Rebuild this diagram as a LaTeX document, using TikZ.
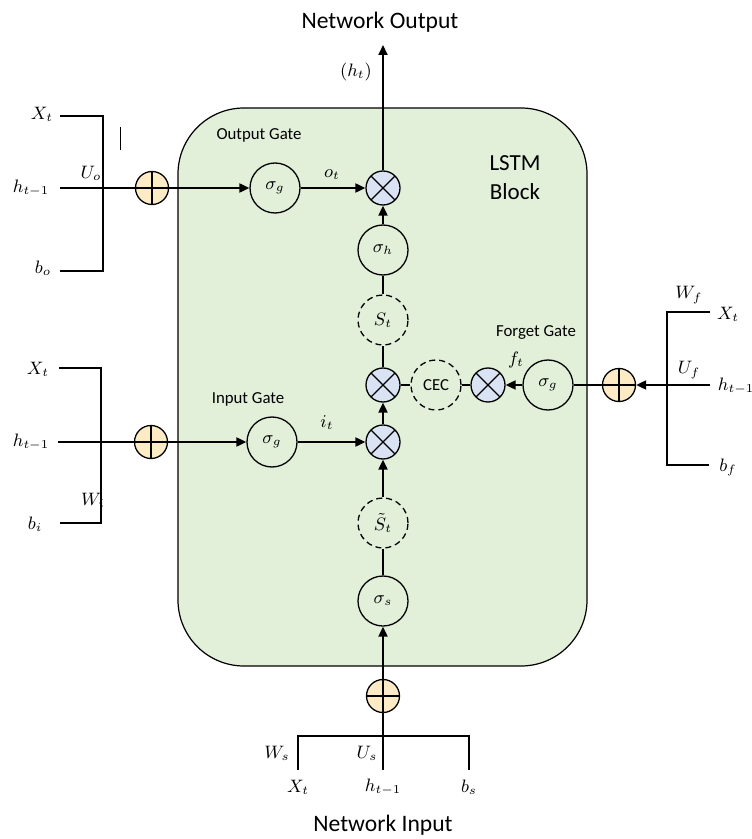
\documentclass[tikz,border=0pt]{standalone}
\usepackage{fontspec}
\setmainfont{Carlito}
\usepackage{tikz}
\usetikzlibrary{arrows.meta}
\definecolor{blockgreen}{HTML}{E2EFD9}
\definecolor{sumfill}{HTML}{FDEBC6}
\definecolor{mulfill}{HTML}{DAE3F3}

\begin{document}
\begin{tikzpicture}[x=0.5pt, y=-0.5pt,
    sig/.style={circle, draw, line width=0.65pt, minimum size=25pt, inner sep=0pt, font=\fontsize{9}{10}\selectfont},
    state/.style={sig, dash pattern=on 3pt off 2pt},
    mul/.style={circle, draw, line width=0.65pt, fill=mulfill, minimum size=17pt, inner sep=0pt,
        path picture={\draw[line width=0.65pt] (path picture bounding box.north west) -- (path picture bounding box.south east)
            (path picture bounding box.north east) -- (path picture bounding box.south west);}},
    sum/.style={circle, draw, line width=0.65pt, fill=sumfill, minimum size=16.5pt, inner sep=0pt,
        path picture={\draw[line width=0.65pt] (path picture bounding box.north) -- (path picture bounding box.south)
            (path picture bounding box.west) -- (path picture bounding box.east);}},
    lbl/.style={inner sep=0pt, font=\fontsize{9.2}{10}\selectfont},
    gate/.style={inner sep=0pt, font=\fontsize{8.4}{10}\selectfont},
    title/.style={inner sep=0pt, font=\fontsize{11.8}{14.5}\selectfont, align=center},
    wire/.style={line width=1pt},
    arr/.style={line width=1pt, -{Triangle[length=5pt, width=4.5pt]}},
    bar/.style={line width=1.4pt}
]
\useasboundingbox (0,0) rectangle (751,839);
\node[draw, fill=blockgreen, line width=0.6pt, rounded corners=33pt, minimum width=204.5pt, minimum height=279pt] (block) at (382.5,387) {};

\node[mul] (omul) at (383,188) {};
\node[sig] (osig) at (275,188) {$\sigma_g$};
\node[sum] (osum) at (152,188) {};
\node[sig] (hsig) at (383,250) {$\sigma_h$};
\node[state] (st) at (383,320) {$S_t$};
\node[mul] (cmul) at (383,385) {};
\node[state, font=\fontsize{8.4}{10}\selectfont] (cec) at (436,385) {CEC};
\node[mul] (fmul) at (488,385) {};
\node[sig] (fsig) at (548,385) {$\sigma_g$};
\node[sum] (fsum) at (619,385) {};
\node[mul] (imul) at (383,442) {};
\node[sig] (isig) at (272,442) {$\sigma_g$};
\node[sum] (isum) at (151,442) {};
\node[state] (sst) at (383,523) {$\tilde{S}_t$};
\node[sig] (ssig) at (383,601) {$\sigma_s$};
\node[sum] (ssum) at (383,696) {};

\node[title] (netout) at (380,22) {Network Output};
\node[title] (netin) at (383,825) {Network Input};
\node[title, font=\fontsize{11.5}{14.5}\selectfont] (lstm) at (515,178) {LSTM\\Block};
\node[gate] (ogate) at (259,135) {Output Gate};
\node[gate] (igate) at (248,399) {Input Gate};
\node[gate] (fgate) at (536,332) {Forget Gate};
\node[lbl] (ht) at (356,72) {$(h_t)$};
\node[lbl] (ot) at (332,175) {$o_t$};
\node[lbl] (it) at (327,423) {$i_t$};
\node[lbl] (ft) at (516,360) {$f_t$};

\node[lbl] (oxt) at (42,114) {$X_t$};
\node[lbl] (oht) at (31,188) {$h_{t-1}$};
\node[lbl] (obo) at (43,268) {$b_o$};
\node[lbl] (ouo) at (91,173) {$U_o$};
\node[lbl] (ixt) at (38,369) {$X_t$};
\node[lbl] (iht) at (31,442) {$h_{t-1}$};
\node[lbl] (ibi) at (35,524) {$b_i$};
\node[lbl] (iwi) at (93,500) {$W_i$};
\node[lbl] (fwf) at (689,295) {$W_f$};
\node[lbl] (fxt) at (728,314) {$X_t$};
\node[lbl] (fuf) at (689,370) {$U_f$};
\node[lbl] (fht) at (736,386) {$h_{t-1}$};
\node[lbl] (fbf) at (728,467) {$b_f$};
\node[lbl] (sws) at (277,753) {$W_s$};
\node[lbl] (sus) at (367,753) {$U_s$};
\node[lbl] (sxt) at (298,787) {$X_t$};
\node[lbl] (sht) at (383,787) {$h_{t-1}$};
\node[lbl] (sbs) at (469,787) {$b_s$};

\coordinate (out) at (383,45);
\coordinate (oX) at (60,116);
\coordinate (oH) at (60,188);
\coordinate (oB) at (60,271);
\coordinate (caret) at (120,127);
\coordinate (iX) at (59,368);
\coordinate (iH) at (58,442);
\coordinate (iB) at (60,523);
\coordinate (fX) at (710,312);
\coordinate (fH) at (710,385);
\coordinate (fB) at (709,465);
\coordinate (sX) at (298,770);
\coordinate (sH) at (383,770);
\coordinate (sB) at (469,770);

\draw[bar] (oX) -- ++(43,0) |- (oB);
\draw[bar] (oH) -- (osum);
\draw[line width=0.5pt] (caret) -- ++(0,23);
\draw[bar] (iX) -- ++(42,0) |- (iB);
\draw[bar] (iH) -- (isum);
\draw[bar] (fX) -- ++(-43,0) |- (fB);
\draw[arr] (fH) -- (fsum);
\draw[bar] (sX) -- ++(0,-34) -| (sB);
\draw[bar] (sH) -- (ssum);

\draw[arr] (omul) -- (out);
\draw[arr] (osum) -- (osig);
\draw[arr] (osig) -- (omul);
\draw[arr] (hsig) -- (omul);
\draw[wire] (st) -- (hsig);
\draw[wire] (cmul) -- (st);
\draw[wire] (cec) -- (cmul);
\draw[wire] (fmul) -- (cec);
\draw[arr] (fsig) -- (fmul);
\draw[wire] (fsum) -- (fsig);
\draw[arr] (imul) -- (cmul);
\draw[arr] (isum) -- (isig);
\draw[arr] (isig) -- (imul);
\draw[arr] (sst) -- (imul);
\draw[wire] (ssig) -- (sst);
\draw[arr] (ssum) -- (ssig);
\end{tikzpicture}
\end{document}
